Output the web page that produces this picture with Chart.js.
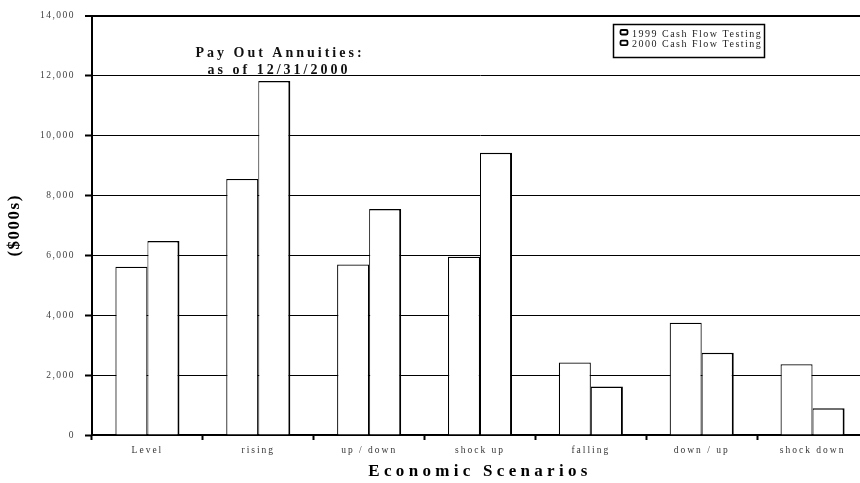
<!DOCTYPE html>
<html>
<head>
<meta charset="utf-8">
<title>Pay Out Annuities</title>
<script src="https://cdn.jsdelivr.net/npm/chart.js@4/dist/chart.umd.min.js"></script>
<style>
    html, body { margin: 0; padding: 0; background: #fff; overflow: hidden; }
    canvas { display: block; }
</style>
</head>
<body>
<canvas id="chart" width="868" height="483"></canvas>
<script>
(function () {
    'use strict';

    const scenarios = ['Level', 'rising', 'up / down', 'shock up', 'falling', 'down / up', 'shock down'];
    const testing1999 = [5620, 8550, 5690, 5950, 2420, 3750, 2360];
    const testing2000 = [6480, 11820, 7550, 9420, 1620, 2750, 890];
    const seriesNames = ['1999 Cash Flow Testing', '2000 Cash Flow Testing'];
    const titleLines = ['Pay Out Annuities:', 'as of 12/31/2000'];
    const yTicks = { min: 0, max: 14000, step: 2000 };

    const serif = '"Liberation Serif", "Times New Roman", Times, serif';

    // per-scale letter spacing for tick labels and axis titles
    const spacing = {
        x: { labels: '2px', title: '4.3px' },
        y: { labels: '1.5px', title: '1.5px' }
    };

    const withSpacing = function (ctx, value, fn) {
        ctx.save();
        ctx.letterSpacing = value;
        fn();
        ctx.restore();
    };

    const letterSpacing = {
        id: 'letterSpacing',
        beforeDraw(chart) {
            Object.keys(spacing).forEach((id) => {
                const scale = chart.scales[id];
                if (!scale || scale._spaced) {
                    return;
                }
                scale._spaced = true;
                const drawLabels = scale.drawLabels;
                const drawTitle = scale.drawTitle;
                scale.drawLabels = function (area) {
                    withSpacing(this.ctx, spacing[id].labels, () => drawLabels.call(this, area));
                };
                scale.drawTitle = function () {
                    withSpacing(this.ctx, spacing[id].title, () => drawTitle.call(this));
                };
            });
        }
    };

    // two-line heading sitting inside the plot
    const heading = {
        id: 'heading',
        afterDraw(chart) {
            const ctx = chart.ctx;
            ctx.save();
            ctx.letterSpacing = '3px';
            ctx.font = 'bold 14px ' + serif;
            ctx.fillStyle = '#111';
            ctx.textAlign = 'center';
            ctx.textBaseline = 'alphabetic';
            ctx.fillText(titleLines[0], 280, 57);
            ctx.fillText(titleLines[1], 279, 74);
            ctx.restore();
        }
    };

    // boxed legend in the upper right corner
    const boxLegend = {
        id: 'boxLegend',
        afterDraw(chart) {
            const ctx = chart.ctx;
            const x = 613.5;
            const y = 24.5;
            ctx.save();
            ctx.fillStyle = '#fff';
            ctx.fillRect(x, y, 151, 33);
            ctx.strokeStyle = '#000';
            ctx.lineWidth = 1.5;
            ctx.strokeRect(x, y, 151, 33);

            ctx.letterSpacing = '1.5px';
            ctx.font = '10px ' + serif;
            ctx.textBaseline = 'alphabetic';
            chart.data.datasets.forEach((ds, i) => {
                const rowY = y + 12 + i * 10.7;
                ctx.beginPath();
                ctx.roundRect(x + 7, rowY - 6.5, 7, 4.5, 1.2);
                ctx.fillStyle = '#fff';
                ctx.fill();
                ctx.lineWidth = 1.8;
                ctx.strokeStyle = '#000';
                ctx.stroke();
                ctx.fillStyle = '#222';
                ctx.fillText(ds.label, x + 18.5, rowY);
            });
            ctx.restore();
        }
    };

    new Chart(document.getElementById('chart'), {
        type: 'bar',
        data: {
            labels: scenarios,
            datasets: [
                {
                    label: seriesNames[0],
                    data: testing1999,
                    backgroundColor: '#fff',
                    borderColor: '#000',
                    borderWidth: { top: 1.2, left: 1.2, right: 1.2, bottom: 0 }
                },
                {
                    label: seriesNames[1],
                    data: testing2000,
                    backgroundColor: '#fff',
                    borderColor: '#000',
                    borderWidth: { top: 1.5, left: 1, right: 2, bottom: 0 }
                }
            ]
        },
        options: {
            responsive: false,
            animation: false,
            devicePixelRatio: 1,
            locale: 'en-US',
            layout: { padding: { top: 14, right: 0, bottom: 0, left: 0 } },
            categoryPercentage: 0.578,
            barPercentage: 1,
            plugins: {
                legend: { display: false },
                tooltip: { enabled: false }
            },
            scales: {
                x: {
                    grid: {
                        display: true,
                        drawOnChartArea: false,
                        drawTicks: true,
                        tickLength: 5,
                        tickWidth: 2,
                        tickColor: '#000',
                        offset: true
                    },
                    border: { display: true, color: '#000', width: 2 },
                    ticks: {
                        color: '#333',
                        padding: 5,
                        maxRotation: 0,
                        autoSkip: false,
                        font: { family: serif, size: 9.5 }
                    },
                    title: {
                        display: true,
                        text: 'Economic Scenarios',
                        color: '#000',
                        padding: { top: 0, bottom: 1 },
                        font: { family: serif, size: 17, weight: 'bold' }
                    },
                    afterFit(scale) {
                        scale.height = 48;
                    }
                },
                y: {
                    min: yTicks.min,
                    max: yTicks.max,
                    grid: {
                        color: '#000',
                        lineWidth: (c) => (c.tick && c.tick.value === yTicks.max ? 2 : 1),
                        drawTicks: true,
                        tickLength: 7,
                        tickWidth: 2,
                        tickColor: '#000'
                    },
                    border: { display: true, color: '#000', width: 2 },
                    ticks: {
                        stepSize: yTicks.step,
                        color: '#404040',
                        padding: 10,
                        font: { family: serif, size: 9.5 }
                    },
                    title: {
                        display: true,
                        text: '($000s)',
                        color: '#000',
                        padding: { top: 4, bottom: 0 },
                        font: { family: serif, size: 17, weight: 'bold' }
                    },
                    afterFit(scale) {
                        scale.width = 92;
                    }
                }
            }
        },
        plugins: [letterSpacing, heading, boxLegend]
    });
})();
</script>
</body>
</html>
